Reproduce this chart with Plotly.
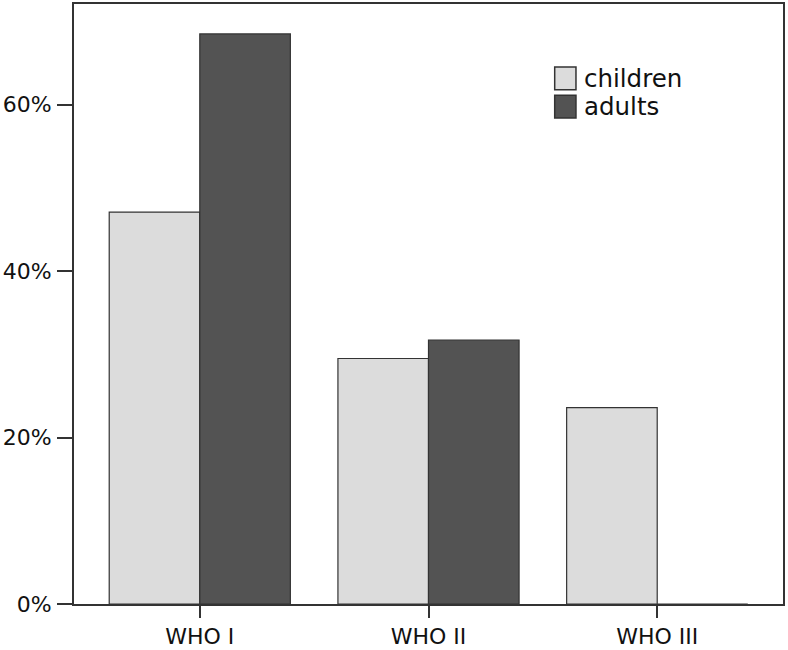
import plotly.graph_objects as go

categories = ["WHO I", "WHO II", "WHO III"]
children = [47.1, 29.5, 23.6]
adults = [68.5, 31.7, 0.0]
series_names = ["children", "adults"]
series_colors = ["#dcdcdc", "#535353"]
y_ticks = [0, 20, 40, 60]
y_tick_labels = ["0%", "20%", "40%", "60%"]

fig = go.Figure()
for name, vals, col in zip(series_names, [children, adults], series_colors):
    fig.add_trace(go.Bar(
        x=categories, y=vals, name=name,
        marker=dict(color=col, line=dict(color="#333333", width=1.2)),
        showlegend=False,
    ))

font_family = "DejaVu Sans, sans-serif"

fig.update_layout(
    width=788, height=650,
    margin=dict(l=74, r=5, t=4, b=46),
    paper_bgcolor="white", plot_bgcolor="white",
    barmode="group", bargap=0.208, bargroupgap=0,
    font=dict(family=font_family, size=22, color="#111111"),
    xaxis=dict(
        type="category", range=[-0.55, 2.55],
        showline=True, linecolor="#333333", linewidth=2, mirror=True,
        ticks="outside", ticklen=12, tickwidth=1.5, tickcolor="#333333",
        showgrid=False, zeroline=False, automargin=False,
        tickfont=dict(family=font_family, size=22, color="#111111"),
    ),
    yaxis=dict(
        range=[0, 72.1],
        tickvals=y_ticks, ticktext=y_tick_labels,
        showline=True, linecolor="#333333", linewidth=2, mirror=True,
        ticks="outside", ticklen=15, tickwidth=1.5, tickcolor="#333333",
        ticklabelstandoff=1, automargin=False,
        showgrid=False, zeroline=False,
        tickfont=dict(family=font_family, size=22, color="#111111"),
    ),
)

# custom legend
legend_y = [0.876, 0.829]
for i, (name, col) in enumerate(zip(series_names, series_colors)):
    yc = legend_y[i]
    fig.add_shape(type="rect", xref="paper", yref="paper",
                  x0=0.678, x1=0.708, y0=yc - 0.019, y1=yc + 0.019,
                  fillcolor=col, line=dict(color="#333333", width=1.5))
    fig.add_annotation(xref="paper", yref="paper", x=0.717, y=yc,
                       text=name, showarrow=False, xanchor="left", yanchor="middle",
                       font=dict(family=font_family, size=24.5, color="#111111"))

fig.write_html("out.html", config={"displayModeBar": False},
               post_script="document.body.style.margin='0px';document.body.style.overflow='hidden';")
